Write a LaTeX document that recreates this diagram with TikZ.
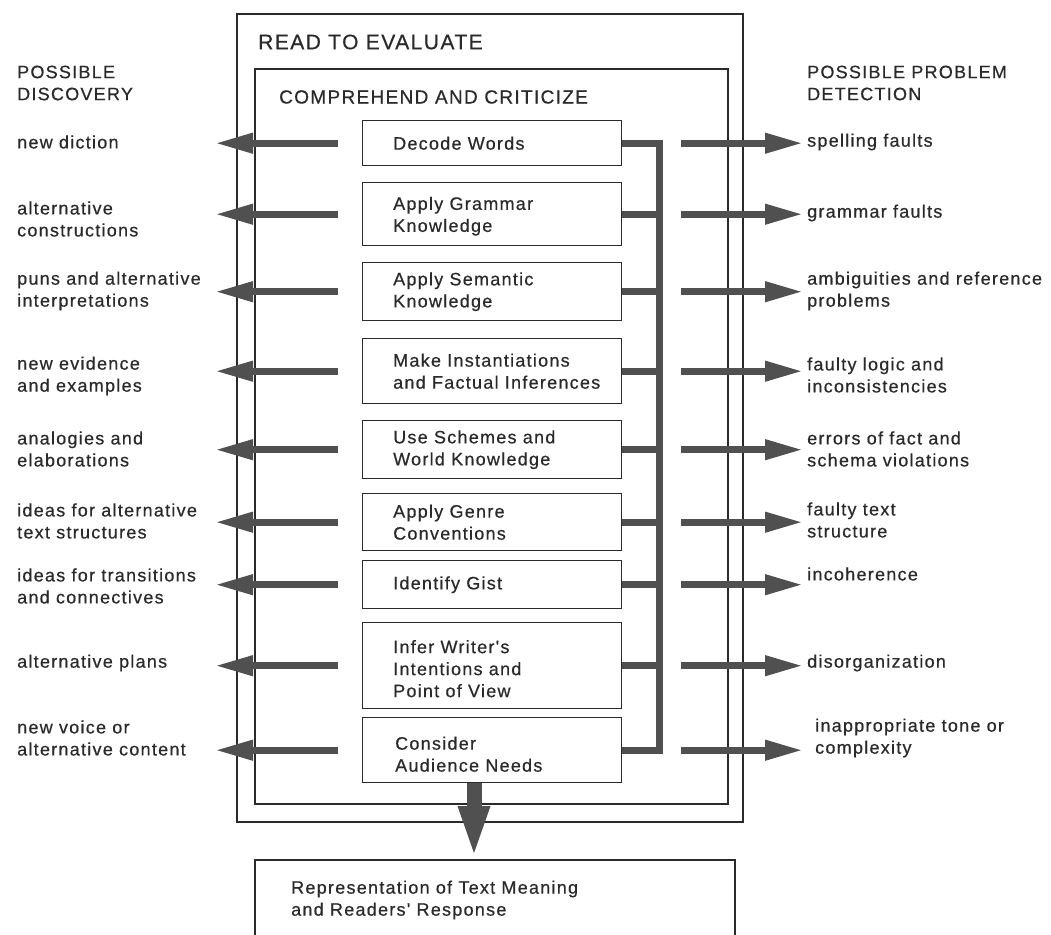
\documentclass[tikz,border=0pt]{standalone}
\usepackage{fontspec}
\setmainfont{Liberation Sans}
\newfontfamily\diagfont[LetterSpace=7,FakeBold=0.5]{Liberation Sans}
\usetikzlibrary{arrows.meta,calc}

\definecolor{ink}{HTML}{2A2A2A}
\definecolor{flowgray}{HTML}{505050}

\begin{document}
\begin{tikzpicture}[x=1pt,y=-1pt,
  frame/.style={draw=ink, line width=1.6pt, inner sep=0pt, anchor=north west},
  stagebox/.style={draw=ink, line width=1.4pt, inner sep=0pt,
    minimum width=259pt, anchor=north west},
  txt/.style={font=\diagfont\fontsize{18}{22}\selectfont, text=ink,
    inner sep=0pt, align=left, anchor=west},
  title/.style={txt, font=\diagfont\fontsize{21}{25}\selectfont},
  subtitle/.style={txt, font=\diagfont\fontsize{19}{23}\selectfont},
  flow/.style={draw=flowgray, line width=7pt,
    -{Triangle[length=38pt,width=19pt]}},
  leftflow/.style={flow, shorten <=24pt},
  rightflow/.style={flow, shorten <=59pt},
  bracket/.style={draw=flowgray, line width=7pt, line join=miter, line cap=butt},
]
\useasboundingbox (0,0) rectangle (1051,934);
\fill[white] (0,0) rectangle (1051,934);
\clip (0,0) rectangle (1051,934);

% nested process frames
\node[frame, minimum width=506pt, minimum height=808pt] (evaluate) at (236,13) {};
\node[frame, minimum width=473pt, minimum height=735pt] (criticize) at (254,68) {};
\node[title] (evaluateT) at (258,42) {READ TO EVALUATE};
\node[subtitle] (criticizeT) at (279,97) {COMPREHEND AND CRITICIZE};

% column headings
\node[txt] (discoveryH) at (17,83) {POSSIBLE\\DISCOVERY};
\node[txt] (detectionH) at (807,83) {POSSIBLE PROBLEM\\DETECTION};

% reading processes
\node[stagebox, minimum height=45pt] (decode) at (362,120) {};
\node[stagebox, minimum height=63pt] (grammar) at (362,182) {};
\node[stagebox, minimum height=58pt] (semantic) at (362,262) {};
\node[stagebox, minimum height=65pt] (instant) at (362,338) {};
\node[stagebox, minimum height=58pt] (schemes) at (362,420) {};
\node[stagebox, minimum height=57pt] (genre) at (362,493) {};
\node[stagebox, minimum height=48pt] (gist) at (362,560) {};
\node[stagebox, minimum height=86pt] (intent) at (362,622) {};
\node[stagebox, minimum height=65pt] (audience) at (362,717) {};

\node[txt] (decodeT) at ($(decode.west)+(31,0)$) {Decode Words};
\node[txt] (grammarT) at ($(grammar.west)+(31,2)$) {Apply Grammar\\Knowledge};
\node[txt] (semanticT) at ($(semantic.west)+(31,0)$) {Apply Semantic\\Knowledge};
\node[txt] (instantT) at ($(instant.west)+(31,0)$) {Make Instantiations\\and Factual Inferences};
\node[txt] (schemesT) at ($(schemes.west)+(31,0)$) {Use Schemes and\\World Knowledge};
\node[txt] (genreT) at ($(genre.west)+(31,0)$) {Apply Genre\\Conventions};
\node[txt] (gistT) at ($(gist.west)+(31,0)$) {Identify Gist};
\node[txt] (intentT) at ($(intent.west)+(31,3)$) {Infer Writer's\\Intentions and\\Point of View};
\node[txt] (audienceT) at ($(audience.west)+(33,4)$) {Consider\\Audience Needs};

% outcome
\node[frame, minimum width=480pt, minimum height=120pt] (result) at (254,859) {};
\node[txt] (resultT) at (291,900) {Representation of Text Meaning\\and Readers' Response};

% discoveries (left)
\node[txt] (d1) at (17,142) {new diction};
\node[txt] (d2) at (17,219) {alternative\\constructions};
\node[txt] (d3) at (17,291) {puns and alternative\\interpretations};
\node[txt] (d4) at (17,376) {new evidence\\and examples};
\node[txt] (d5) at (17,449) {analogies and\\elaborations};
\node[txt] (d6) at (17,521) {ideas for alternative\\text structures};
\node[txt] (d7) at (17,586) {ideas for transitions\\and connectives};
\node[txt] (d8) at (17,663) {alternative plans};
\node[txt] (d9) at (17,738) {new voice or\\alternative content};

% problems detected (right)
\node[txt] (p1) at (807,142) {spelling faults};
\node[txt] (p2) at (807,213) {grammar faults};
\node[txt] (p3) at (807,291) {ambiguities and reference\\problems};
\node[txt] (p4) at (807,375) {faulty logic and\\inconsistencies};
\node[txt] (p5) at (807,449) {errors of fact and\\schema violations};
\node[txt] (p6) at (807,520) {faulty text\\structure};
\node[txt] (p7) at (807,574) {incoherence};
\node[txt] (p8) at (807,663) {disorganization};
\node[txt] (p9) at (815,738) {inappropriate tone or\\complexity};

% arrow end points
\coordinate (leftTip) at (215,0);
\coordinate (rightTip) at (803,0);
\coordinate (spine) at (659,0);
\coordinate (drop) at (474,0);

% discovery and detection arrows
\foreach \b in {decode,grammar,semantic,instant,schemes,genre,gist,intent,audience}{
  \draw[leftflow] (\b.west) -- (\b.west -| leftTip);
  \draw[rightflow] (\b.east) -- (\b.east -| rightTip);
}

% bracket joining every process
\draw[bracket] (decode.east) -| (spine |- audience.east) -- (audience.east);
\foreach \b in {grammar,semantic,instant,schemes,genre,gist,intent}{
  \draw[bracket] (\b.east) -- (\b.east -| spine);
}

% result arrow
\draw[draw=flowgray, line width=15pt, -{Triangle[length=53pt,width=28pt]}]
  (audience.south -| drop) -- (result.north -| drop);
\end{tikzpicture}
\end{document}
